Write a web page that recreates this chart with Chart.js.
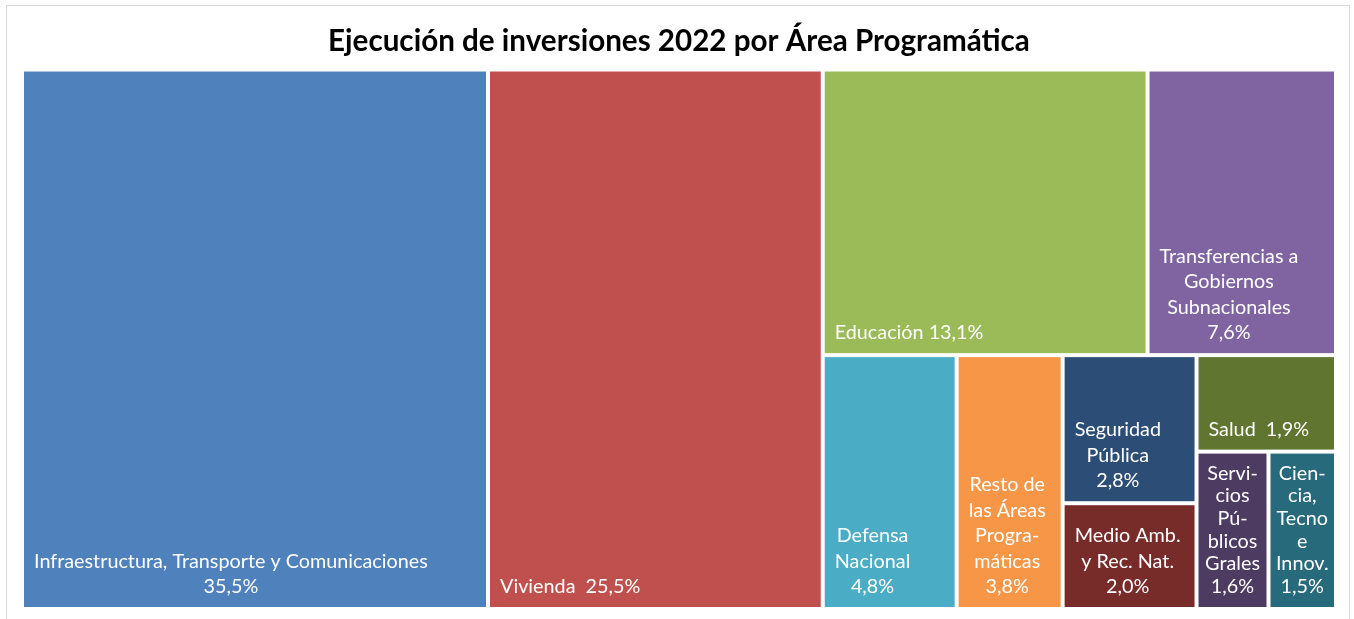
<!DOCTYPE html>
<html>
<head>
<meta charset="utf-8">
<script src="https://cdn.jsdelivr.net/npm/chart.js@4"></script>
<style>
  html, body { margin: 0; padding: 0; background: #fff; }
  #wrap { width: 1354px; height: 619px; }
</style>
</head>
<body>
<div id="wrap"><canvas id="myChart" width="1354" height="619"></canvas></div>
<script>
// ===== data =====
var areas = [
  "Infraestructura, Transporte y Comunicaciones\n{v}",
  "Vivienda  {v}",
  "Educación {v}",
  "Transferencias a\nGobiernos\nSubnacionales\n{v}",
  "Defensa\nNacional\n{v}",
  "Resto de\nlas Áreas\nProgra-\nmáticas\n{v}",
  "Seguridad\nPública\n{v}",
  "Medio Amb.\ny Rec. Nat.\n{v}",
  "Salud  {v}",
  "Servi-\ncios\nPú-\nblicos\nGrales\n{v}",
  "Cien-\ncia,\nTecno\ne\nInnov.\n{v}"
];
var shares = [35.5, 25.5, 13.1, 7.6, 4.8, 3.8, 2.8, 2.0, 1.9, 1.6, 1.5];
var colors = [
  "#4F81BD", "#C0504D", "#9BBB59", "#8064A2", "#4BACC6", "#F79646",
  "#2C4D75", "#772C2A", "#5F7530", "#4D3B62", "#276A7C"
];

// nesting of the tiles (row = side by side, col = stacked), sizes come from shares
var tiles = ['row', 0, 1, ['col', ['row', 2, 3], ['row', 4, 5, ['col', 6, 7], ['col', 8, ['row', 9, 10]]]]];

function nodeSum(n) {
  if (typeof n === 'number') return shares[n];
  return n.slice(1).reduce(function (a, k) { return a + nodeSum(k); }, 0);
}

function layout(n, x0, y0, x1, y1, out) {
  if (typeof n === 'number') {
    out.push({ i: n, x0: x0, y0: y0, x1: x1, y1: y1 });
    return;
  }
  var kids = n.slice(1);
  var tot = nodeSum(n);
  var pos = n[0] === 'row' ? x0 : y0;
  kids.forEach(function (k) {
    var f = nodeSum(k) / tot;
    if (n[0] === 'row') {
      var nx = pos + (x1 - x0) * f;
      layout(k, pos, y0, nx, y1, out);
      pos = nx;
    } else {
      var ny = pos + (y1 - y0) * f;
      layout(k, x0, pos, x1, ny, out);
      pos = ny;
    }
  });
}

function fmt(v) {
  return v.toFixed(1).replace('.', ',') + '%';
}

var FONT = '19.8px Lato, "Open Sans", sans-serif';

var treemapPlugin = {
  id: 'treemapCells',
  beforeDraw: function (chart) {
    var c = chart.ctx;
    c.save();
    c.fillStyle = '#fff';
    c.fillRect(0, 0, chart.width, chart.height);
    c.strokeStyle = '#d9d9d9';
    c.lineWidth = 1;
    c.strokeRect(6.5, 5.5, 1343, 700);
    c.restore();
  },
  afterDatasetsDraw: function (chart) {
    var c = chart.ctx;
    var xs = chart.scales.x, ys = chart.scales.y;
    var cells = [];
    layout(tiles, 0, 0, 100, 100, cells);
    var gap = 2;
    c.save();
    cells.forEach(function (cell) {
      var left = xs.getPixelForValue(cell.x0) + gap;
      var right = xs.getPixelForValue(cell.x1) - gap;
      var top = ys.getPixelForValue(cell.y0) + gap;
      var bottom = ys.getPixelForValue(cell.y1) - gap;
      c.fillStyle = colors[cell.i];
      c.fillRect(left, top, right - left, bottom - top);

      // label block, anchored bottom-left, lines centred inside the block
      var lines = areas[cell.i].replace('{v}', fmt(shares[cell.i])).split('\n');
      c.font = FONT;
      c.fillStyle = '#fff';
      c.textAlign = 'center';
      c.textBaseline = 'alphabetic';
      var w = Math.max.apply(null, lines.map(function (l) { return c.measureText(l).width; }));
      var bx = left + 10;
      if (w + 20 > right - left) bx = left + (right - left - w) / 2;
      var lh = 25.5;
      if (lines.length > 1) lh = Math.min(lh, (bottom - top - 40) / (lines.length - 1));
      lines.forEach(function (l, k) {
        var y = bottom - 14 - (lines.length - 1 - k) * lh;
        c.fillText(l, bx + w / 2, y);
      });
    });
    c.restore();
  }
};

var config = {
  type: 'scatter',
  data: {
    datasets: [{ data: [], pointRadius: 0 }]
  },
  options: {
    responsive: false,
    animation: false,
    layout: {
      padding: { left: 22, right: 18, top: 6, bottom: 10 }
    },
    plugins: {
      legend: { display: false },
      tooltip: { enabled: false },
      title: {
        display: true,
        text: 'Ejecución de inversiones 2022 por Área Programática',
        color: '#000',
        font: { family: 'Lato, "Open Sans", sans-serif', size: 29.6, weight: 'bold' },
        padding: { top: 18, bottom: 10 }
      }
    },
    scales: {
      x: { type: 'linear', min: 0, max: 100, display: false },
      y: { type: 'linear', min: 0, max: 100, reverse: true, display: false }
    }
  },
  plugins: [treemapPlugin]
};

var ctx = document.getElementById('myChart').getContext('2d');
new Chart(ctx, config);
</script>
</body>
</html>
